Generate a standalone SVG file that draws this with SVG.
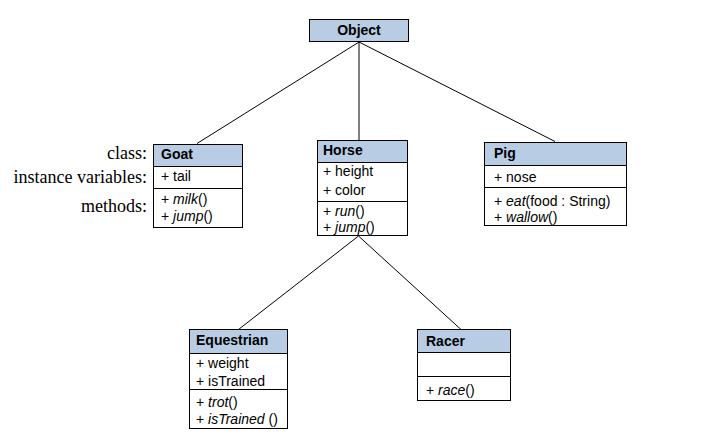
<svg xmlns="http://www.w3.org/2000/svg" width="717" height="444" viewBox="0 0 717 444">
<style>
.box{fill:#ffffff;stroke:#000;stroke-width:1}
.hdr{fill:#b8cce4;stroke:#000;stroke-width:1}
.div{stroke:#000;stroke-width:1}
text{font-family:"Liberation Sans",Arial,sans-serif;font-size:14px;fill:#000}
.b{font-weight:bold}
.i{font-style:italic}
.lbl{font-family:"Liberation Serif","Times New Roman",serif;font-size:18px;text-anchor:end}
.conn line{stroke:#000;stroke-width:1}
</style>
<rect width="717" height="444" fill="#fff"/>
<g class="conn" id="connectors">
<line x1="359" y1="42" x2="197" y2="143.5"/>
<line x1="359" y1="42" x2="359" y2="140"/>
<line x1="359" y1="42" x2="555" y2="141.5"/>
<line x1="358.5" y1="236" x2="238.5" y2="329.5"/>
<line x1="358.5" y1="236" x2="461" y2="329.5"/>
</g>
<g id="labels">
<text class="lbl" x="147" y="159">class:</text>
<text class="lbl" x="147" y="183">instance variables:</text>
<text class="lbl" x="147" y="212">methods:</text>
</g>
<g id="Object">
<rect class="hdr" x="309.5" y="19.5" width="99" height="22"/>
<text class="b" x="359" y="35" text-anchor="middle">Object</text>
</g>
<g id="Goat">
<rect class="box" x="153.5" y="144.5" width="89" height="83"/>
<rect class="hdr" x="153.5" y="144.5" width="89" height="22"/>
<line class="div" x1="153.5" y1="188.5" x2="242.5" y2="188.5"/>
<text class="b" x="161" y="159">Goat</text>
<text x="161" y="181">+ tail</text>
<text x="161" y="204">+ <tspan class="i">milk</tspan>()</text>
<text x="161" y="221">+ <tspan class="i">jump</tspan>()</text>
</g>
<g id="Horse">
<rect class="box" x="317.5" y="140.5" width="90" height="95"/>
<rect class="hdr" x="317.5" y="140.5" width="90" height="22"/>
<line class="div" x1="317.5" y1="201.5" x2="407.5" y2="201.5"/>
<text class="b" x="323" y="155">Horse</text>
<text x="323" y="176">+ height</text>
<text x="323" y="195">+ color</text>
<text x="323" y="216">+ <tspan class="i">run</tspan>()</text>
<text x="323" y="232">+ <tspan class="i">jump</tspan>()</text>
</g>
<g id="Pig">
<rect class="box" x="484.5" y="142.5" width="142" height="83"/>
<rect class="hdr" x="484.5" y="142.5" width="142" height="23"/>
<line class="div" x1="484.5" y1="187.5" x2="626.5" y2="187.5"/>
<text class="b" x="494" y="158">Pig</text>
<text x="494" y="182">+ nose</text>
<text x="494" y="206">+ <tspan class="i">eat</tspan>(food : String)</text>
<text x="494" y="222">+ <tspan class="i">wallow</tspan>()</text>
</g>
<g id="Equestrian">
<rect class="box" x="189.5" y="329.5" width="98" height="99"/>
<rect class="hdr" x="189.5" y="329.5" width="98" height="24"/>
<line class="div" x1="189.5" y1="389.5" x2="287.5" y2="389.5"/>
<text class="b" x="196" y="345">Equestrian</text>
<text x="196" y="368">+ weight</text>
<text x="196" y="386">+ isTrained</text>
<text x="196" y="407">+ <tspan class="i">trot</tspan>()</text>
<text x="196" y="424">+ <tspan class="i">isTrained </tspan>()</text>
</g>
<g id="Racer">
<rect class="box" x="417.5" y="329.5" width="93" height="71"/>
<rect class="hdr" x="417.5" y="329.5" width="93" height="23"/>
<line class="div" x1="417.5" y1="376.5" x2="510.5" y2="376.5"/>
<text class="b" x="426" y="346">Racer</text>
<text x="426" y="395">+ <tspan class="i">race</tspan>()</text>
</g>
</svg>
